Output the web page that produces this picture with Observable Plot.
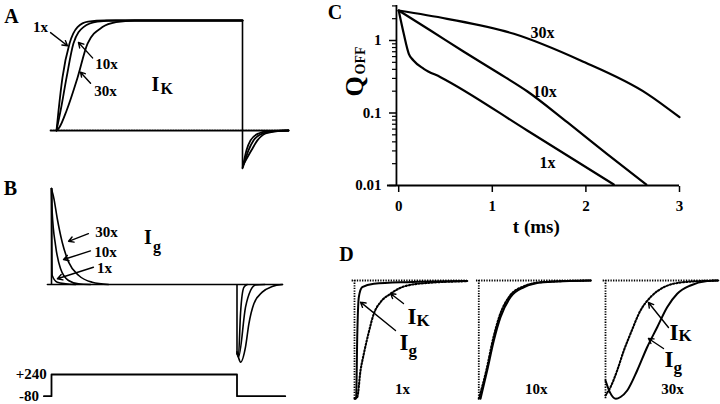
<!DOCTYPE html>
<html><head><meta charset="utf-8">
<script src="https://cdn.jsdelivr.net/npm/d3@7"></script>
<script src="https://cdn.jsdelivr.net/npm/@observablehq/plot@0.6"></script>
<style>
html,body{margin:0;padding:0;background:#fff;}
#fig{position:relative;width:720px;height:404px;overflow:hidden;background:#fff;}
#fig svg{position:absolute;left:0;top:0;background:transparent;}
</style></head><body><div id="fig"></div>
<script>
// ---------- Panel A: I_K (normalized) vs time (ms) ----------
const aRise1x  = [[0,0],[0.11,0.18],[0.32,0.48],[0.7,0.79],[1.13,0.94],[1.7,0.99],[2.6,1],[10,1]];
const aRise10x = [[0,0],[0.22,0.18],[0.54,0.48],[0.91,0.79],[1.45,0.94],[2.2,0.99],[3.2,1],[10,1]];
const aRise30x = [[0,0],[0.16,0.03],[0.54,0.18],[1.13,0.48],[1.67,0.79],[2.47,0.94],[3.2,0.985],[4.2,1],[10,1]];
const aTail1x  = [[10,-0.345],[10.215,-0.18],[10.43,-0.09],[10.86,-0.027],[11.4,-0.006],[12.47,0]];
const aTail10x = [[10.03,-0.33],[10.32,-0.18],[10.59,-0.09],[11.08,-0.027],[11.7,-0.006],[12.47,0]];
const aTail30x = [[10.05,-0.31],[10.48,-0.18],[10.8,-0.09],[11.24,-0.027],[11.9,-0.006],[12.47,0]];
const aBaseline = [[-0.32,0],[12.47,0]];
const aPulseEnd = 10, aTailMin = -0.345;

// ---------- Panel B: I_g (normalized) ----------
const bOn1x  = [[0,1],[0.016,0.46],[0.038,0.094],[0.31,0.024],[0.76,0.007],[1.3,0]];
const bOn10x = [[0,1],[0.038,0.75],[0.216,0.41],[0.485,0.167],[0.916,0.042],[1.455,0.007],[2.1,0]];
const bOn30x = [[0,1],[0.05,0.96],[0.124,0.9],[0.307,0.69],[0.577,0.44],[0.93,0.23],[1.47,0.094],[2.19,0.024],[3.07,0]];
const bOff1x  = [[10,-0.72],[10.08,-0.74],[10.19,-0.3],[10.37,-0.03],[10.55,0]];
const bOff10x = [[10,-0.72],[10.08,-0.757],[10.46,-0.236],[10.73,-0.0625],[11.0,-0.005],[11.5,0]];
const bOff30x = [[10,-0.7],[10.08,-0.76],[10.19,-0.81],[10.46,-0.65],[10.64,-0.41],[10.91,-0.2],[11.36,-0.08],[11.9,-0.02],[12.45,0]];
const bBaseline = [[-0.22,0],[12.45,0]];
const bSpikeTop = 1, bOffDepth = -0.72;

// ---------- Voltage protocol (mV) ----------
const vTime  = [-0.41, 0, 0, 10, 10, 12.6];
const vLevel = [-80, -80, 240, 240, -80, -80];

// ---------- Panel C: Q_OFF (log) vs t (ms) ----------
const c1x  = [[0,2.59],[0.054,1.237],[0.108,0.656],[0.158,0.53],[0.268,0.407],[0.447,0.312],[1.373,0.0574],[2.298,0.01033]];
const c10x = [[0,2.59],[0.34,1.374],[0.692,0.705],[1.056,0.362],[1.376,0.198],[1.804,0.074],[2.221,0.0276],[2.645,0.01033]];
const c30x = [[0,2.59],[0.518,1.992],[1.23,1.237],[1.943,0.53],[2.655,0.184],[3.0,0.0875]];
const cXTicks = [0,1,2,3];
const cYTicks = [0.01,0.1,1];
const cYMinor = [0.02,0.03,0.04,0.05,0.06,0.07,0.08,0.09,0.2,0.3,0.4,0.5,0.6,0.7,0.8,0.9,2,3];

// ---------- Panel D: normalized OFF currents ----------
const d1Ig = [[0.012,-1],[0.018,-0.986],[0.029,-0.48],[0.046,-0.14],[0.082,-0.056],[0.206,-0.028],[0.56,-0.014],[1.2,-0.005]];
const d1Ik = [[0,-1],[0.029,-0.986],[0.064,-0.761],[0.099,-0.62],[0.152,-0.437],[0.205,-0.282],[0.277,-0.183],[0.383,-0.112],[0.524,-0.051],[0.737,-0.023],[1.2,-0.006]];
const d2Ig = [[0.018,-1],[0.089,-0.761],[0.16,-0.507],[0.231,-0.31],[0.337,-0.141],[0.479,-0.057],[0.691,-0.014],[1.19,0]];
const d2Ik = [[0,-1],[0.08,-0.76],[0.15,-0.5],[0.22,-0.3],[0.325,-0.135],[0.47,-0.052],[0.69,-0.012],[1.19,0]];
const d3Ig = [[0,-0.845],[0.05,-0.95],[0.11,-1.0],[0.16,-0.985],[0.231,-0.93],[0.337,-0.761],[0.443,-0.564],[0.55,-0.395],[0.656,-0.226],[0.763,-0.112],[0.904,-0.042],[1.082,-0.005],[1.2,0]];
const d3Ik = [[0,-0.972],[0.053,-0.902],[0.124,-0.761],[0.195,-0.592],[0.266,-0.45],[0.372,-0.254],[0.479,-0.141],[0.62,-0.057],[0.833,-0.014],[1.2,0]];
const dNames = ["1x","10x","30x"];

// ---------- layout ----------
const W = 720, H = 404;
const FONT = "Liberation Serif";
const fig = document.getElementById("fig");
const DOT = "1.3,1.3";
const DOT2 = "1.4,1.9";

function make(opts, marks) {
  const svg = Plot.plot({
    width: W, height: H, margin: 0,
    style: {background: "transparent", fontFamily: FONT, fontWeight: "bold", fontSize: "15px", color: "black", overflow: "visible"},
    ...opts, marks
  });
  fig.appendChild(svg);
}
const X = d => d[0], Y = d => d[1];
function curve(data, o = {}) {
  return Plot.line(data, {x: X, y: Y, curve: "monotone-x", stroke: "black", strokeWidth: 1.8, ...o});
}
function label(px, py, s, size, o = {}) {
  return Plot.text([{px, py, s}], {x: d => d.px, y: d => d.py, text: d => d.s, fontSize: size, fontWeight: "bold", fill: "black", ...o});
}
function arrow(a1, b1, a2, b2) {
  return Plot.arrow([{a1, b1, a2, b2}], {x1: d => d.a1, y1: d => d.b1, x2: d => d.a2, y2: d => d.b2, stroke: "black", strokeWidth: 1.4, headLength: 6});
}
function vrule(px, p1, p2, o = {}) {
  return Plot.ruleX([{px, p1, p2}], {x: d => d.px, y1: d => d.p1, y2: d => d.p2, stroke: "black", strokeWidth: 1.6, ...o});
}
// subscripted label: main letter + smaller subscript
function sub(px, py, main, s, size, ssize, dx, dy, o = {}) {
  return [
    label(px, py, main, size, o),
    label(px, py, s, ssize, {textAnchor: "start", dx, dy, ...o})
  ];
}

// Panel A
make({
  x: {domain: [0, 10], range: [56, 242], axis: null},
  y: {domain: [0, 1], range: [130, 20], axis: null}
}, [
  Plot.line(aBaseline, {x: X, y: Y, stroke: "black", strokeWidth: 1.8, strokeDasharray: DOT}),
  curve(aRise1x), curve(aRise10x), curve(aRise30x),
  vrule(aPulseEnd, 1, aTailMin),
  curve(aTail1x), curve(aTail10x), curve(aTail30x),
  label(-2.42, 1.036, "A", 20),
  label(-0.86, 0.94, "1x", 15),
  label(2.69, 0.6, "10x", 15),
  label(2.63, 0.355, "30x", 15),
  arrow(-0.32, 0.89, 0.59, 0.77),
  arrow(1.94, 0.66, 1.18, 0.8),
  arrow(1.83, 0.43, 1.29, 0.53),
  ...sub(5.32, 0.42, "I", "K", 20, 16, 5, 5)
]);

// Panel B
make({
  x: {domain: [0, 10], range: [51, 236.5], axis: null},
  y: {domain: [0, 1], range: [284, 188], axis: null}
}, [
  Plot.line(bBaseline, {x: X, y: Y, stroke: "black", strokeWidth: 1.6}),
  vrule(0, 0, bSpikeTop),
  curve(bOn1x, {strokeWidth: 1.6}), curve(bOn10x, {strokeWidth: 1.6}), curve(bOn30x, {strokeWidth: 1.6}),
  vrule(10, 0, bOffDepth),
  curve(bOff1x, {strokeWidth: 1.6}), curve(bOff10x, {strokeWidth: 1.6}), curve(bOff30x, {strokeWidth: 1.6}),
  label(-2.21, 0.995, "B", 20),
  label(2.96, 0.54, "30x", 15),
  label(2.91, 0.34, "10x", 15),
  label(2.86, 0.17, "1x", 15),
  arrow(1.99, 0.53, 0.92, 0.45),
  arrow(2.10, 0.35, 0.65, 0.26),
  arrow(2.26, 0.18, 0.32, 0.06),
  ...sub(5.2, 0.49, "I", "g", 20, 16, 5, 9)
]);

// Voltage protocol
make({
  x: {domain: [0, 10], range: [51, 236.5], axis: null},
  y: {domain: [-80, 240], range: [395.7, 374], axis: null}
}, [
  Plot.line(vTime.map((t, i) => [t, vLevel[i]]), {x: X, y: Y, stroke: "black", strokeWidth: 1.8}),
  label(-0.25, 240, "+240", 15, {textAnchor: "end"}),
  label(-0.67, -80, "-80", 15, {textAnchor: "end"})
]);

// Panel C
make({
  marginLeft: 396, marginRight: 41, marginTop: 5, marginBottom: 218,
  x: {domain: [0, 3], range: [398.2, 679]},
  y: {type: "log", domain: [0.01, 1], range: [185, 40]}
}, [
  Plot.ruleY([0.01], {x1: -0.12, x2: 3.0, stroke: "black", strokeWidth: 1.8}),
  Plot.ruleX([-0.024], {y1: 0.01, y2: 3.04, stroke: "black", strokeWidth: 1.8}),
  Plot.axisY(cYMinor, {anchor: "left", label: null, tickSize: 4, tickFormat: () => "", strokeWidth: 1.2}),
  Plot.axisY(cYTicks, {anchor: "left", label: null, tickSize: 7, tickPadding: 8, tickFormat: d => String(d), strokeWidth: 1.5, fontSize: 15}),
  Plot.axisX(cXTicks, {anchor: "bottom", label: null, tickSize: 6, tickPadding: 8, strokeWidth: 1.5, fontSize: 15}),
  curve(c1x, {strokeWidth: 2.2}), curve(c10x, {strokeWidth: 2.2}), curve(c30x, {strokeWidth: 2.2}),
  label(-0.68, 2.395, "C", 20),
  label(1.535, 1.29, "30x", 16),
  label(1.56, 0.198, "10x", 16),
  label(1.59, 0.0208, "1x", 16),
  label(1.47, 0.00272, "t (ms)", 19),
  label(-0.472, 0.232, "Q", 26, {rotate: -90}),
  label(-0.408, 0.53, "OFF", 14, {rotate: -90})
]);

// Panel D: three sub-panels
const dX0 = [354, 478.3, 605];
const dIg = [d1Ig, d2Ig, d3Ig];
const dIk = [d1Ik, d2Ik, d3Ik];
const dLabelT = [0.51, 0.61, 0.713];
dX0.forEach((x0, i) => {
  const extra = [];
  if (i === 0) {
    extra.push(label(-0.085, 0.216, "D", 20));
    extra.push(...sub(0.612, -0.309, "I", "K", 23, 17, 4.5, 3));
    extra.push(...sub(0.527, -0.528, "I", "g", 23, 17, 4.5, 8));
    extra.push(arrow(0.521, -0.194, 0.383, -0.11));
    extra.push(arrow(0.436, -0.423, 0.064, -0.183));
  }
  if (i === 2) {
    extra.push(...sub(0.729, -0.44, "I", "K", 23, 17, 4.5, 3));
    extra.push(...sub(0.676, -0.672, "I", "g", 23, 17, 4.5, 8));
    extra.push(arrow(0.67, -0.397, 0.457, -0.186));
    extra.push(arrow(0.617, -0.575, 0.457, -0.49));
  }
  make({
    x: {domain: [0, 1.2], range: [x0, x0 + 112.8], axis: null},
    y: {domain: [-1, 0], range: [398.3, 280], axis: null}
  }, [
    Plot.ruleY([0], {x1: -0.025, x2: 1.2, stroke: "black", strokeWidth: 1.8, strokeDasharray: DOT}),
    vrule(0, 0, -1, {strokeDasharray: DOT, strokeWidth: 1.8}),
    curve(dIk[i], {strokeDasharray: DOT2, strokeWidth: 2.1}),
    curve(dIg[i], {strokeWidth: 2}),
    label(dLabelT[i], -0.92, dNames[i], 15),
    ...extra
  ]);
});
</script></body></html>
